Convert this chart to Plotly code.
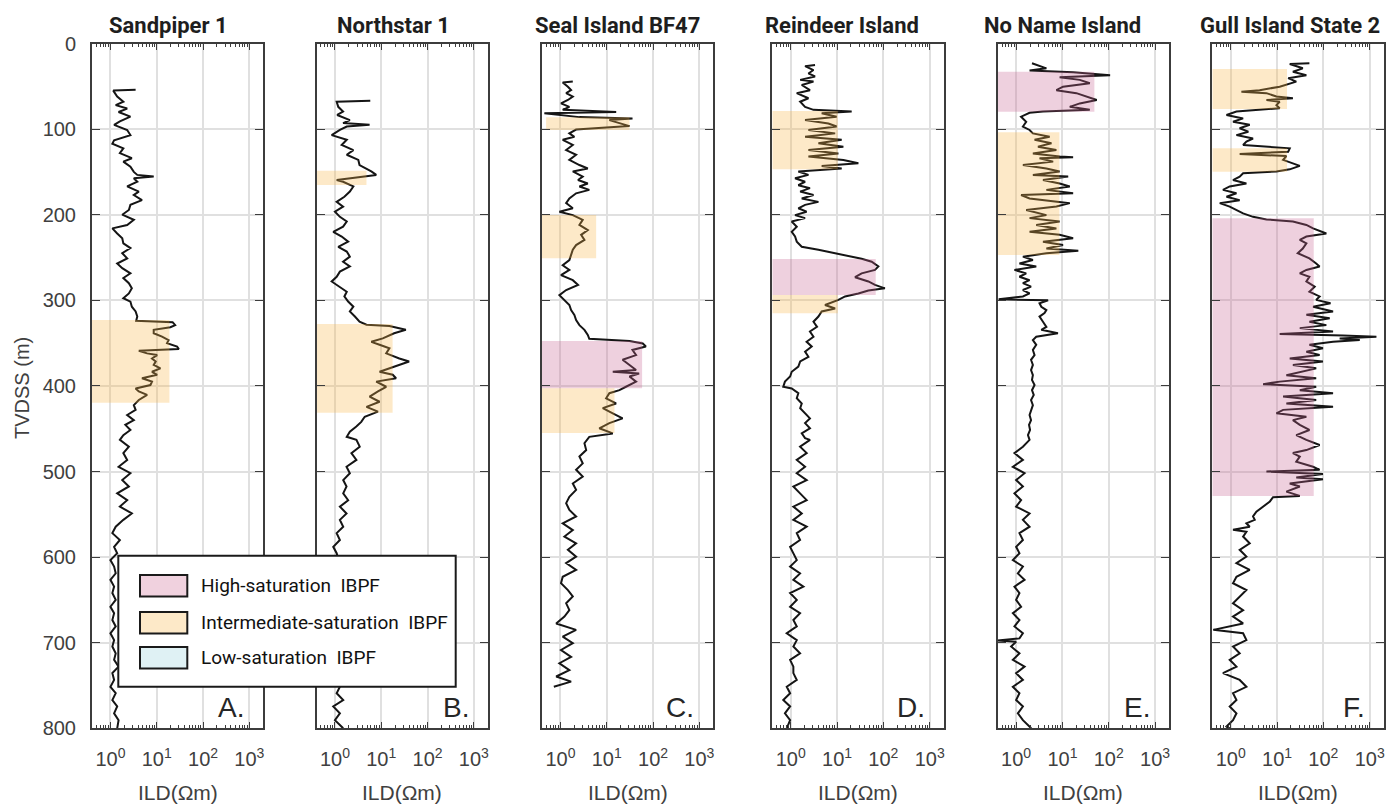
import math
import plotly.graph_objects as go

# ---------------- data ----------------
WELLS = ["Sandpiper 1", "Northstar 1", "Seal Island BF47",
         "Reindeer Island", "No Name Island", "Gull Island State 2"]
PANEL_LETTERS = ["A.", "B.", "C.", "D.", "E.", "F."]

sandpiper_depth = [54, 55, 62, 68, 72, 76, 80, 85.5, 91, 95, 101, 107, 113, 117, 122.5, 128, 134, 138, 144, 150,
                   153.5, 155.5, 157.5, 161.5, 167, 173, 177, 183, 188.5, 194.5, 200, 206, 212, 216, 222, 227.5,
                   233.5, 239, 245, 251, 257, 262.5, 268.5, 274, 280, 286, 292, 297.5, 301.5, 307.5, 313, 319,
                   324, 325.5, 329, 331.5, 334.5, 338.5, 342.5, 346.5, 350, 354, 357, 359, 362, 364, 368, 371.5,
                   375.5, 379.5, 383.5, 387, 391, 395, 399, 403, 406.5, 410.5, 416.5, 422.5, 428, 434, 440,
                   445.5, 451.5, 457.5, 463, 471, 478.5, 486.5, 494.5, 502, 510, 517.5, 525.5, 533.5, 541, 549,
                   556.5, 564.5, 572, 580, 588, 595.5, 603.5, 611, 619, 626.5, 634.5, 642, 650, 658, 665.5,
                   673.5, 681, 689, 697, 704.5, 712.5, 720, 728, 735.5, 743.5, 751.5, 759, 767, 774.5, 782.5,
                   790.5, 800]
sandpiper_ild = [3.5, 1.15, 1.4, 1.9, 1.3, 2.3, 1.5, 2.7, 1.6, 1.2, 2.3, 2.7, 1.2, 1.1, 1.9, 1.6, 2.9, 1.9, 2.7, 3.2,
                 3.8, 8.6, 3.2, 3.8, 2.3, 4.1, 3.2, 4.8, 2.7, 2.5, 1.8, 3.2, 2.3, 1.1, 1.4, 1.8,
                 1.9, 2.7, 1.8, 2.3, 1.4, 1.8, 2.7, 1.9, 2.5, 2.9, 2.5, 1.9, 2.7, 2.9, 3.5, 3.8,
                 3.6, 22, 25, 19.7, 8.6, 8.6, 13, 18, 16.7, 27.5, 30, 4.1, 6.2, 10.2, 7.9, 9.5,
                 8.6, 12, 7.9, 10.2, 4.8, 7.9, 7.3, 3.5, 4.1, 6.2, 4.1, 3.2, 3.5, 2.3, 3.2,
                 2.1, 2.7, 1.9, 1.6, 2.5, 1.9, 2.3, 1.5, 2.7, 1.8, 2.5, 1.4, 2.3, 1.6, 2.9,
                 1.9, 1.3, 1.1, 1.6, 1.2, 1.4, 1.0, 1.2, 1.3, 1.0, 1.2, 1.1, 1.3, 1.0, 1.2,
                 1.1, 1.3, 1.0, 1.2, 1.1, 1.3, 1.2, 1.5, 1.1, 1.2, 1.0, 1.3, 1.1, 1.4, 1.2,
                 1.5, 1.4]

northstar_depth = [67, 68, 74, 79.5, 83.5, 89.5, 93, 95, 97, 101, 107, 112.5, 118.5, 124.5, 130, 136, 142, 146,
                   149.5, 153.5, 155.5, 159.5, 161.5, 167, 173, 179, 185, 190.5, 196.5, 202.5, 208, 214, 220,
                   225.5, 231.5, 237.5, 243, 249, 255, 260.5, 266.5, 272.5, 278, 284, 290, 295.5, 301.5, 307.5,
                   313, 319, 325, 328.5, 330, 334.5, 338.5, 344.5, 348.5, 352, 356, 362, 368, 371.5, 375.5,
                   379.5, 383.5, 387, 391, 395, 401, 406.5, 412.5, 418.5, 424.5, 430, 436, 442, 447.5, 453.5,
                   459.5, 463, 471, 478.5, 486.5, 494.5, 502, 510, 517.5, 525.5, 533.5, 541, 549, 556.5, 564.5,
                   572, 580, 588, 595.5, 610, 625, 640, 655, 670, 685, 700, 715, 730, 745, 751.5, 759, 767,
                   774.5, 782.5, 790.5, 800]
northstar_ild = [5.8, 1.09, 1.18, 1.5, 1.12, 2.1, 1.5, 5.6, 1.8, 1.28, 0.85, 1.8, 1.4, 2.5, 1.8, 3.2, 3.4, 4.8,
                 6.1, 7.8, 4.1, 1.09, 1.5, 2.5, 2.1, 1.6, 1.09, 1.5, 1.0, 1.28, 1.8, 1.5, 0.92,
                 1.4, 1.93, 1.18, 1.8, 2.1, 1.5, 2.1, 1.28, 1.09, 0.85, 1.28, 1.8, 1.6, 1.93, 2.5,
                 2.1, 2.7, 3.4, 4.8, 15, 34, 19, 10.8, 6.1, 9.2, 15, 12.8, 24.6, 40, 24.6,
                 13.7, 9.2, 17.7, 20.9, 7.8, 12.8, 8.5, 5.6, 9.2, 4.8, 8.5, 4.4, 3.7, 2.9, 2.1,
                 1.8, 2.91, 3.43, 2.27, 2.91, 1.78, 2.1, 1.51, 1.78, 1.51, 1.93, 1.28, 1.78, 1.28, 1.51,
                 1.09, 1.28, 0.92, 1.09, 1.3, 1.1, 1.4, 1.2, 1.0, 1.3, 1.1, 1.2, 1.0, 1.3, 1.28, 1.09, 1.51,
                 0.92, 1.28, 1.0, 1.51]

seal_depth = [44.5, 45.5, 50.5, 54.5, 58, 62, 66, 70, 74, 77.5, 80, 81.5, 86, 87.5, 89.5, 93.5, 96.5, 98, 100.5,
              105, 109, 112.5, 118.5, 124.5, 130, 136, 142, 146, 149.5, 155.5, 159.5, 163.5, 167, 171, 175,
              181, 186.5, 192.5, 196.5, 200.5, 206, 212, 218, 223.5, 229.5, 235.5, 241, 247, 253, 259, 264.5,
              270.5, 276.5, 282, 288, 294, 299.5, 305.5, 311.5, 317, 323, 329, 334.5, 340.5, 345, 347.5,
              350.5, 354, 358, 364, 369.5, 375.5, 381.5, 383.5, 385.5, 389, 395, 401, 405, 408.5, 414.5,
              420.5, 426, 432, 438, 443.5, 449.5, 455.5, 459.5, 467, 475, 482.5, 490.5, 498, 506, 514,
              521.5, 529.5, 537, 545, 552.5, 560.5, 568.5, 576, 584, 591.5, 599.5, 607, 615, 623, 630.5,
              638.5, 646, 654, 662, 669.5, 677.5, 685, 693, 700.5, 708.5, 716.5, 724, 732, 739.5, 745.5,
              751.5]
seal_ild = [1.85, 1.12, 1.45, 1.7, 1.33, 1.85, 1.45, 1.03, 1.56, 1.12, 16, 0.45, 2.57, 36, 11.4, 22, 31, 9.7, 2.18,
            1.56, 2.0, 1.12, 1.85, 1.33, 2.18, 1.56, 2.57, 3.9, 1.85, 3.03, 2.4, 3.9, 2.57, 4.2, 2.18,
            1.56, 1.33, 1.85, 0.95, 1.85, 3.03, 2.57, 3.9, 2.8, 3.3, 2.18, 1.85, 1.7, 1.56, 1.12, 1.56,
            1.03, 1.85, 2.4, 1.33, 0.95, 1.22, 1.56, 1.7, 2.0, 2.18, 2.57, 3.3, 3.9, 4.2, 31,
            60, 70, 36, 43, 22, 31, 43, 13.5, 50, 31, 43, 26, 18.8, 11.4, 9.7,
            15.9, 8.2, 13.5, 22, 11.4, 6.9, 13.5, 4.2, 3.3, 3.6, 2.57, 3.03, 2.18, 3.03, 1.85,
            2.18, 1.56, 1.33, 1.56, 2.18, 1.12, 1.85, 1.22, 2.18, 1.45, 2.18, 1.33, 2.18, 1.12, 1.03,
            1.45, 1.85, 1.33, 1.56, 1.22, 0.81, 2.18, 1.12, 1.85, 1.03, 1.7, 0.95, 1.56, 0.81, 1.7,
            0.72]

reindeer_depth = [25, 26.5, 31, 35, 38.5, 42.5, 44.5, 48.5, 54.5, 58, 64, 68, 74, 77.5, 79.5, 81.5, 85.5, 89.5,
                  93.5, 97, 101, 105, 109, 112.5, 116.5, 120.5, 124.5, 128.5, 132, 136, 140, 143, 146, 149.5,
                  153.5, 157.5, 161.5, 165.5, 169, 173, 177, 181, 185, 188.5, 192.5, 196.5, 200.5, 204, 208,
                  214, 220, 225.5, 231.5, 237.5, 241, 245, 248, 251.5, 255, 260.5, 264.5, 268.5, 273, 278,
                  282, 286, 288.5, 292, 295.5, 299.5, 305.5, 309.5, 313, 319, 325, 331, 336.5, 342.5, 348.5,
                  354, 360, 366, 371.5, 377.5, 383.5, 389, 395, 401, 403, 408.5, 414.5, 420.5, 426, 432, 438,
                  443.5, 449.5, 455.5, 461, 463, 471, 478.5, 486.5, 494.5, 502, 510, 517.5, 525.5, 533.5, 541,
                  549, 556.5, 564.5, 572, 580, 588, 595.5, 603.5, 611, 619, 626.5, 634.5, 642, 650, 658, 665.5,
                  673.5, 681, 689, 697, 704.5, 712.5, 720, 728, 735.5, 743.5, 751.5, 759, 767, 774.5, 782.5,
                  790.5, 800]
reindeer_ild = [3.35, 2.04, 3.1, 2.41, 3.35, 1.6, 3.1, 1.73, 2.6, 1.35, 2.41, 1.6, 2.04, 3.1, 20.7, 4.66, 9.8, 2.04,
                6.5, 9.8, 2.41, 9.1, 2.04, 12.6, 3.96, 13.7, 2.41, 10.7, 2.41, 13.7, 28.9, 4.66, 12.6, 1.46,
                2.41, 1.24, 2.04, 1.46, 2.6, 1.6, 3.1, 1.73, 3.96, 2.04, 1.46, 2.2, 1.24, 2.04, 1.05,
                1.35, 1.05, 1.24, 1.35, 1.73, 3.96, 9.1, 17.6, 34, 56, 78, 66, 34, 24.5, 47.5,
                66, 108, 47.5, 28.9, 14.9, 10.7, 5.5, 9.1, 4.66, 3.96, 3.1, 3.7, 2.6, 3.1, 2.2,
                2.84, 2.04, 2.41, 1.6, 1.46, 1.05, 0.97, 0.75, 0.69, 1.05, 1.46, 1.35, 1.73, 1.6, 2.04, 2.6,
                2.04, 2.6, 1.73, 2.04, 2.61, 1.59, 2.21, 1.35, 2.04, 1.35, 2.21, 1.14, 1.59, 2.21, 1.14,
                1.73, 1.14, 2.21, 1.35, 1.59, 0.97, 1.14, 1.35, 0.97, 1.59, 1.14, 1.88, 0.97, 1.35, 0.97, 1.59,
                1.14, 1.35, 0.82, 1.35, 1.14, 1.59, 0.97, 1.14, 1.14, 1.35, 0.82, 0.97, 0.69, 0.97, 0.75,
                0.97, 0.82]

noname_depth = [23, 29, 31.5, 33.5, 37, 39.5, 42.5, 46.5, 50.5, 54.5, 58, 62, 66, 70, 74, 77.5, 79.5, 81, 85.5,
                91.5, 97, 101, 105, 109, 112.5, 116.5, 120.5, 124.5, 128.5, 132, 133, 134, 138, 142, 146,
                149.5, 153.5, 155.5, 159.5, 163.5, 167, 171, 175, 177, 181, 186.5, 190.5, 194.5, 200.5, 204,
                208, 212, 216, 220, 223.5, 227.5, 231.5, 235.5, 239.5, 242, 245, 249, 253, 257, 260.5, 264.5,
                268.5, 272.5, 276.5, 280, 284, 288, 292, 295.5, 298.8, 300, 303.5, 307.5, 311.5, 315, 319,
                325, 331, 334.5, 338.5, 342.5, 346.5, 352, 358, 364, 369.5, 375.5, 381.5, 387.5, 393, 399,
                405, 410.5, 416.5, 422.5, 428, 434, 440, 445.5, 451.5, 457.5, 463, 471, 478.5, 486.5, 494.5,
                502, 510, 517.5, 525.5, 533.5, 541, 549, 556.5, 564.5, 572, 580, 588, 595.5, 603.5, 611, 619,
                626.5, 634.5, 642, 650, 658, 665.5, 673.5, 681, 689, 695, 697.5, 699, 704.5, 712.5, 720, 728,
                735.5, 743.5, 751.5, 759, 767, 774.5, 782.5, 790.5, 798, 800]
noname_ild = [2.2, 4.5, 1.95, 17, 107, 8.7, 23.7, 39, 10.3, 7.4, 20, 33, 55, 23.7, 14.4, 39, 3.8, 1.95, 1.28,
              1.65, 1.4, 1.95, 2.3, 5.3, 2.5, 5.8, 2.96, 7.4, 2.3, 8.7, 17, 3.2, 6.3, 1.4, 4.5,
              8.7, 2.3, 13.3, 3.8, 8.7, 14.4, 4.5, 17, 1.28, 1.95, 14.4, 7.4, 1.65, 4.5, 1.95,
              8.7, 2.72, 7.4, 1.95, 8.7, 17, 3.8, 10.3, 4.5, 22, 4.5, 1.4, 2.3, 1.18, 2.72, 0.92,
              1.65, 1.18, 1.95, 1.4, 2.1, 1.4, 1.95, 1.4, 0.42, 4.9, 3.2, 3.5, 4.5, 4.1, 3.2,
              3.8, 4.5, 3.5, 8.0, 2.72, 2.3, 2.72, 2.3, 2.5, 2.1, 2.3, 2.1, 2.3, 2.2, 2.5,
              2.2, 2.4, 2.1, 2.3, 2.1, 1.95, 2.1, 1.9, 2.0, 1.8, 1.95, 1.4, 0.92, 1.4, 0.85,
              1.52, 1.0, 1.4, 0.92, 1.28, 1.0, 1.95, 1.4, 1.95, 1.18, 1.4, 1.0, 1.18, 0.85, 1.4, 1.09,
              1.52, 0.92, 1.18, 1.0, 1.28, 0.85, 1.18, 0.92, 1.4, 1.18, 0.4, 1.0, 0.78, 1.18, 0.85, 1.52,
              1.0, 1.4, 0.85, 1.18, 1.0, 1.4, 1.09, 1.4, 1.95, 2.12]

gull_depth = [23, 24, 29, 33, 37, 40.5, 44.5, 48.5, 50.5, 54.5, 56.5, 58, 62, 64, 66, 68, 72, 75.5, 77.5, 79.5,
              83.5, 87.5, 91.5, 95, 99, 103, 107, 111, 114.5, 118.5, 122.5, 126.5, 129, 131.5, 136, 140, 143,
              147, 149.5, 151.5, 155.5, 159.5, 163.5, 167, 171, 175, 179, 183, 186.5, 190.5, 194.5, 198.5,
              202.5, 205.5, 208, 212, 216, 220, 222, 225.5, 229.5, 233.5, 239.5, 245, 251, 257, 260.5, 264.5,
              268.5, 272.5, 278, 284, 290, 295.5, 299.5, 303.5, 307.5, 313, 317, 321, 325, 329, 332.5, 336.5,
              339.5, 341, 342.5, 344.5, 346.5, 348.5, 352, 356, 360, 364, 368, 371.5, 375.5, 379.5, 383.5,
              387.5, 391, 395, 398, 401, 405, 408.5, 412.5, 416.5, 420.5, 424.5, 428, 432, 436, 440, 445.5,
              451.5, 457.5, 463, 469, 475, 478.5, 482.5, 488.5, 494.5, 498, 500, 503, 507, 509, 514, 517.5,
              523.5, 528.5, 530, 535, 541, 547, 552.5, 556.5, 560.5, 564.5, 568, 570.5, 576, 584, 591.5,
              599.5, 607, 615, 623, 630.5, 638.5, 646, 654, 662, 669.5, 677.5, 685, 689, 697, 704.5, 712.5,
              720, 728, 735.5, 743.5, 751.5, 759, 767, 774.5, 782.5, 790.5, 798, 800]
gull_ild = [50, 18.8, 36, 22, 43, 17.4, 26, 15.9, 11.4, 4.2, 1.7, 5.9, 9.7, 22, 5.9, 11.4, 9.7, 11.4, 3.03, 1.33,
            0.81, 1.85, 1.12, 2.57, 1.56, 2.4, 1.33, 3.03, 2.18, 1.85, 18.8, 17.4, 1.56, 15.9, 13.5, 22, 31,
            18.8, 9.7, 1.85, 1.56, 1.12, 2.18, 0.95, 0.68, 1.33, 0.81, 1.56, 0.58, 0.95, 1.33, 1.85,
            3.03, 5.9, 22, 43, 60, 98, 116, 43, 31, 43, 36, 28, 50, 70, 83, 43,
            31, 50, 43, 65, 50, 83, 70, 143, 60, 162, 43, 137, 50, 116, 31, 162,
            11.4, 267, 1400, 225, 611, 162, 50, 98, 43, 83, 18.8, 98, 22, 70, 31,
            15.9, 70, 11.4, 5.0, 70, 31, 162, 13.5, 70, 15.9, 162, 13.5, 9.7, 43, 22, 31,
            50, 26, 43, 83, 43, 22, 31, 26, 60, 83, 5.9, 98, 26, 98, 18.8, 31,
            15.9, 31, 8.2, 7.0, 5.0, 3.58, 3.03, 3.3, 2.18, 2.57, 1.12, 2.18, 1.85, 2.57, 1.56,
            2.18, 1.33, 2.57, 1.33, 1.12, 2.18, 1.56, 1.12, 1.85, 1.12, 1.85, 0.42, 1.85, 2.18, 1.12, 1.56,
            0.95, 1.33, 0.68, 1.56, 2.18, 1.12, 1.33, 0.95, 1.33, 1.12, 0.81, 0.95]

WELL_DEPTHS = [sandpiper_depth, northstar_depth, seal_depth, reindeer_depth, noname_depth, gull_depth]
WELL_ILDS = [sandpiper_ild, northstar_ild, seal_ild, reindeer_ild, noname_ild, gull_ild]

# IBPF intervals (well index, top depth, base depth, min ILD, max ILD, class)
box_well = [0, 1, 1, 2, 2, 2, 2, 3, 3, 3, 4, 4, 5, 5, 5]
box_top = [323, 148.6, 327.7, 86.2, 200.4, 347.5, 402.8, 78.9, 251.8, 293.8, 32.9, 103.8, 29.8, 122.5, 204.2]
box_base = [419.6, 165.3, 431.3, 101, 251, 402.8, 455, 147, 293.8, 315.2, 79.7, 247, 76.5, 149.7, 528.6]
box_rmin = [0.4, 0.4, 0.4, 0.49, 0.4, 0.4, 0.4, 0.4, 0.4, 0.4, 0.4, 0.4, 0.4, 0.4, 0.4]
box_rmax = [18.8, 4.8, 17.6, 31, 5.9, 58, 14.7, 10.4, 68.5, 10.4, 49, 8.6, 16.4, 16.4, 62]
box_class = ["I", "I", "I", "I", "I", "H", "I", "I", "H", "I", "H", "I", "I", "I", "H"]

LEGEND_LABELS = ["High-saturation \u00a0IBPF", "Intermediate-saturation \u00a0IBPF", "Low-saturation \u00a0IBPF"]

X_TICKS = [1, 10, 100, 1000]
X_TICK_TEXT = ["10<sup>0</sup>", "10<sup>1</sup>", "10<sup>2</sup>", "10<sup>3</sup>"]

# ---------------- styling / layout ----------------
W, H = 1387, 806
PANEL_LEFT = [92, 316.5, 542, 772.3, 997.7, 1212.3]
PANEL_W = 171.3
PLOT_TOP, PLOT_BOT = 43.5, 728.3
TITLE_CX = [168, 393, 617, 842, 1062, 1290]

AX_COLOR = "#3c3c3c"
GRID_COLOR = "#e0e0e0"
FILL = {"H": "rgba(198,98,145,0.30)", "I": "rgba(248,182,72,0.30)"}
LEG_FILL = ["#f0d1de", "#fde9c8", "#dff1f4"]
SANS = "'Liberation Sans', Arial, Helvetica, sans-serif"
TICK_FONT = dict(family=SANS, size=20, color="#404040")
TITLE_FAMILY = "Roboto, 'Liberation Sans', sans-serif"
LEGEND_FAMILY = "Roboto, 'Liberation Sans', sans-serif"

minor_vals = []
for dec in [0.1, 1, 10, 100, 1000]:
    for k in range(2, 10):
        minor_vals.append(k * dec)


def px(x):
    return x / W


def py(y):
    return 1 - y / H


fig = go.Figure()
layout = dict(width=W, height=H, margin=dict(l=0, r=0, t=0, b=0, pad=0, autoexpand=False),
              paper_bgcolor="white", plot_bgcolor="white", showlegend=False)

annotations = []
shapes = []

for i in range(6):
    s = "" if i == 0 else str(i + 1)
    left = PANEL_LEFT[i]
    layout["xaxis" + s] = dict(
        domain=[px(left), px(left + PANEL_W)], type="log",
        range=[math.log10(0.4), math.log10(2000)], anchor="y" + s, automargin=False,
        showline=True, linecolor=AX_COLOR, linewidth=2, mirror="ticks",
        ticks="inside", ticklen=6, tickwidth=1.3, tickcolor=AX_COLOR,
        tickmode="array", tickvals=X_TICKS, ticktext=X_TICK_TEXT, tickfont=TICK_FONT,
        showgrid=True, gridcolor=GRID_COLOR, gridwidth=1.5, zeroline=False,
        minor=dict(ticks="inside", ticklen=3, tickwidth=1, tickcolor=AX_COLOR,
                   tickmode="array", tickvals=minor_vals, showgrid=False),
        ticklabelstandoff=12, fixedrange=True)
    layout["yaxis" + s] = dict(
        domain=[py(PLOT_BOT), py(PLOT_TOP)], range=[800, 0], anchor="x" + s, automargin=False,
        showline=True, linecolor=AX_COLOR, linewidth=2, mirror="ticks",
        ticks="inside", ticklen=8, tickwidth=1.3, tickcolor=AX_COLOR,
        tick0=0, dtick=100, showticklabels=(i == 0), tickfont=TICK_FONT,
        showgrid=True, gridcolor=GRID_COLOR, gridwidth=1.5, zeroline=False,
        ticklabelstandoff=10, fixedrange=True)

    fig.add_trace(go.Scatter(x=WELL_ILDS[i], y=WELL_DEPTHS[i], mode="lines",
                             line=dict(color="#151515", width=2.0),
                             xaxis="x" + s, yaxis="y" + s, hoverinfo="skip"))

    annotations.append(dict(text="<b>" + WELLS[i] + "</b>", x=px(TITLE_CX[i]), y=py(25),
                            xref="paper", yref="paper", showarrow=False, xanchor="center",
                            yanchor="middle", font=dict(family=TITLE_FAMILY, size=22, color="#1e1e1e")))
    annotations.append(dict(text=PANEL_LETTERS[i], x=px(left + PANEL_W - 17), y=py(707),
                            xref="paper", yref="paper", showarrow=False, xanchor="right",
                            yanchor="middle", font=dict(family=SANS, size=28, color="#262626")))
    annotations.append(dict(text="ILD(\u03a9m)", x=px(left + PANEL_W / 2), y=py(792),
                            xref="paper", yref="paper", showarrow=False, xanchor="center",
                            yanchor="middle", font=dict(family=SANS, size=21, color="#404040")))

# shaded IBPF intervals drawn above the logs
for k in range(len(box_well)):
    i = box_well[k]
    s = "" if i == 0 else str(i + 1)
    r0, r1 = box_rmin[k], box_rmax[k]
    t, b = box_top[k], box_base[k]
    fig.add_trace(go.Scatter(x=[r0, r1, r1, r0, r0], y=[t, t, b, b, t], mode="lines",
                             fill="toself", fillcolor=FILL[box_class[k]], line=dict(width=0),
                             xaxis="x" + s, yaxis="y" + s, hoverinfo="skip"))

annotations.append(dict(text="TVDSS (m)", x=px(22), y=py(388), xref="paper", yref="paper",
                        showarrow=False, textangle=-90, xanchor="center", yanchor="middle",
                        font=dict(family=SANS, size=20, color="#404040")))

# legend box
LEG_L, LEG_T, LEG_R, LEG_B = 118.3, 555.7, 455.7, 686.7
shapes.append(dict(type="rect", xref="paper", yref="paper", x0=px(LEG_L), x1=px(LEG_R),
                   y0=py(LEG_B), y1=py(LEG_T), fillcolor="white",
                   line=dict(color="#1a1a1a", width=2), layer="above"))
row_cy = [585.7, 622.7, 657.7]
for j in range(3):
    shapes.append(dict(type="rect", xref="paper", yref="paper", x0=px(140), x1=px(187.3),
                       y0=py(row_cy[j] + 10.8), y1=py(row_cy[j] - 10.8), fillcolor=LEG_FILL[j],
                       line=dict(color="#1a1a1a", width=2), layer="above"))
    annotations.append(dict(text=LEGEND_LABELS[j], x=px(199), y=py(row_cy[j]), xref="paper",
                            yref="paper", showarrow=False, xanchor="left", yanchor="middle",
                            font=dict(family=LEGEND_FAMILY, size=19, color="#111111")))

layout["annotations"] = annotations
layout["shapes"] = shapes
fig.update_layout(**layout)
fig.write_html("out.html")
